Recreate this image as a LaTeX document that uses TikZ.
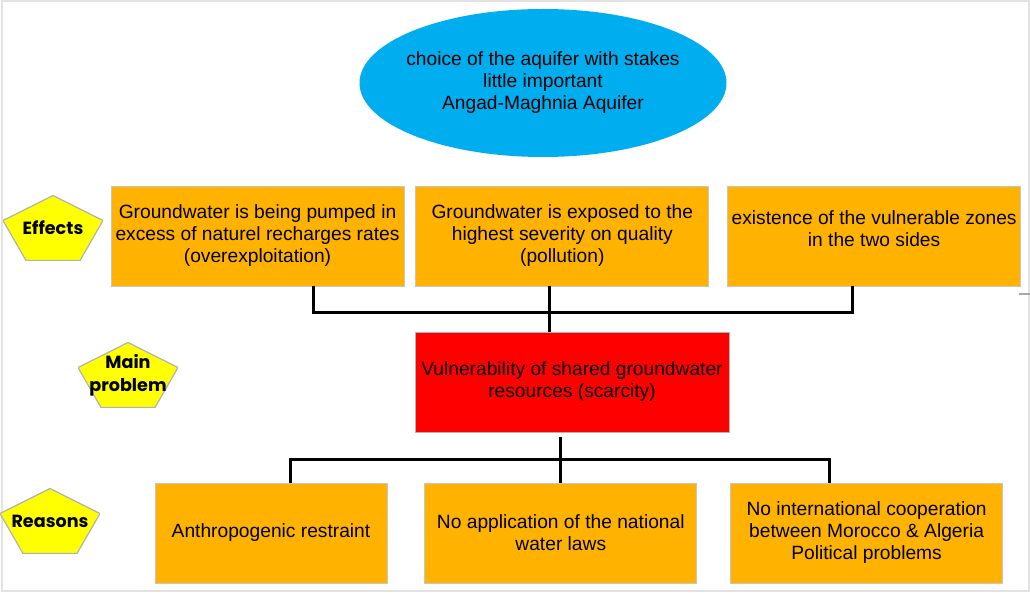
\documentclass[tikz,border=0pt]{standalone}
\usepackage{fontspec}
\setmainfont{Liberation Sans}
\newfontfamily\tagfont{Poppins}
\usepackage{xcolor}
\usepackage{tikz}
\usetikzlibrary{shapes.geometric,arrows,positioning,calc}

\definecolor{boxorange}{HTML}{FFB300}
\definecolor{corered}{HTML}{FF0000}
\definecolor{goalblue}{HTML}{00AEF0}
\definecolor{tagyellow}{HTML}{FFFF00}
\definecolor{framegray}{HTML}{E2E2E2}

\begin{document}
\begin{tikzpicture}[
    x=0.5pt, y=-0.5pt,
    font=\fontsize{9.6}{11}\selectfont,
    goal/.style={ellipse, fill=goalblue, minimum width=183.5pt, minimum height=74pt, align=center, inner xsep=-4pt, inner ysep=0pt},
    effect/.style={rectangle, draw=gray!45, line width=0.4pt, fill=boxorange, minimum width=146.5pt, minimum height=50pt, align=center, inner sep=2pt},
    reason/.style={rectangle, draw=gray!45, line width=0.4pt, fill=boxorange, minimum height=50pt, align=center, inner sep=2pt},
    problem/.style={rectangle, draw=gray!60, line width=0.4pt, fill=corered, minimum width=157pt, minimum height=50pt, align=center, inner sep=2pt},
    tagbox/.style={minimum width=50pt, minimum height=32.5pt, inner sep=0pt, align=center,
        font=\tagfont\bfseries\fontsize{8.8}{11.5}\selectfont,
        path picture={\filldraw[fill=tagyellow, draw=gray!60, line width=0.6pt]
            (path picture bounding box.north)
            -- ($(path picture bounding box.north east)!0.385!(path picture bounding box.south east)$)
            -- ($(path picture bounding box.south west)!0.77!(path picture bounding box.south east)$)
            -- ($(path picture bounding box.south west)!0.23!(path picture bounding box.south east)$)
            -- ($(path picture bounding box.north west)!0.385!(path picture bounding box.south west)$)
            -- cycle;}},
    conn/.style={line width=1.5pt, black}
]
\useasboundingbox (0,0) rectangle (1030,593);

% Frame
\draw[framegray, line width=0.8pt] (2,1) rectangle (1029,591);
\draw[gray!70, line width=0.8pt] (1019,294) -- (1030,294);

% Aquifer
\node[goal] (aquifer) at (543,83) {choice of the aquifer with stakes\\little important\\Angad-Maghnia Aquifer};

% Effects
\node[effect] (effA) at (257.5,236) {Groundwater is being pumped in\\excess of naturel recharges rates\\(overexploitation)};
\node[effect, right=5.5pt of effA] (effB) {Groundwater is exposed to the\\highest severity on quality\\(pollution)};
\node[effect, right=9pt of effB] (effC) {existence of the vulnerable zones\\in the two sides\\[-4pt]};

% Main problem
\node[problem] (core) at (572,382) {Vulnerability of shared groundwater\\resources (scarcity)};

% Reasons
\node[reason, minimum width=116pt] (resA) at (271,533) {Anthropogenic restraint};
\node[reason, minimum width=136pt, right=18.5pt of resA] (resB) {No application of the national\\water laws};
\node[reason, minimum width=136pt, right=16.5pt of resB] (resC) {No international cooperation\\between Morocco \& Algeria\\Political problems};

% Tags
\node[tagbox] (tagEff) at (53,228) {Effects};
\node[tagbox] (tagCore) at (128,375) {Main\\problem};
\node[tagbox] (tagRes) at (50,521) {Reasons};

% Connectors
\coordinate (busL) at (313,313);
\coordinate (busM) at (549,313);
\coordinate (busR) at (852,313);
\draw[conn] (effA.south -| busL) -- (busL) -- (busR) -- (effC.south -| busR);
\draw[conn] (effB.south -| busM) -- (core.north -| busM);

\coordinate (lowL) at (290,460);
\coordinate (lowM) at (560,460);
\coordinate (lowR) at (829,460);
\draw[conn] (resA.north -| lowL) -- (lowL) -- (lowR) -- (resC.north -| lowR);
\draw[conn] ([yshift=-2.5pt]core.south -| lowM) -- (resB.north -| lowM);

\end{tikzpicture}
\end{document}
